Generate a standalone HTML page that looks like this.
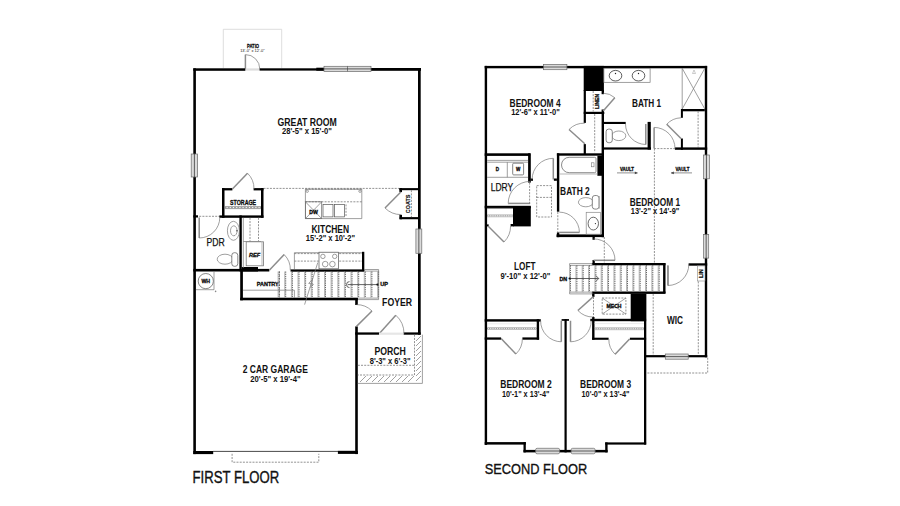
<!DOCTYPE html>
<html><head><meta charset="utf-8">
<style>
html,body{margin:0;padding:0;background:#fff;width:900px;height:506px;overflow:hidden}
svg{display:block}
text{font-family:"Liberation Sans",sans-serif;fill:#111}
.w{fill:#000}
.g{stroke:#8c8c8c;stroke-width:1.5;fill:none}
.a{stroke:#777;stroke-width:0.7;fill:none}
.d{stroke:#777;stroke-width:0.8;fill:none;stroke-dasharray:2 1.2}
.lt{stroke:#d4d4d4;stroke-width:0.8;fill:none}
.win{fill:#dadada;stroke:#6a6a6a;stroke-width:0.7}
.wl{stroke:#333;stroke-width:0.75}
.fx{stroke:#555;stroke-width:0.7;fill:#fff}
.rm{font-size:10.5px;font-weight:bold}
.dm{font-size:8.5px;font-weight:bold}
.sm{font-size:5.5px;font-weight:bold}
.s{stroke:#000;stroke-width:0.28px}
</style></head>
<body>
<svg width="900" height="506" viewBox="0 0 900 506">
<rect width="900" height="506" fill="#fff"/>

<!-- ================= FIRST FLOOR ================= -->
<!-- patio -->
<path class="lt" d="M223.3 68 V29.3 H281.7 V68"/>
<text class="s" x="253" y="47.5" font-size="6" text-anchor="middle" font-weight="bold" fill="#222" textLength="12" lengthAdjust="spacingAndGlyphs">PATIO</text>
<text x="252.4" y="51.9" font-size="4.3" text-anchor="middle" fill="#222" textLength="24.5" lengthAdjust="spacingAndGlyphs">13'-0" x 12'-0"</text>
<!-- patio door -->
<path class="g" d="M245.4 69 V54.6"/>
<path class="a" d="M245.4 54.6 A14.4 14.4 0 0 1 259.8 69"/>
<rect x="245.2" y="68.4" width="14.6" height="2.2" fill="#ddd"/>

<!-- outer walls -->
<rect class="w" x="193.3" y="68.3" width="52" height="2.5"/>
<rect class="w" x="259.6" y="68.3" width="64.4" height="2.3"/>
<rect class="w" x="316.3" y="67.7" width="8" height="3"/>
<rect class="w" x="371" y="68" width="50" height="2.8"/>
<rect class="w" x="193.3" y="68.3" width="2.6" height="385.8"/>
<rect class="w" x="418" y="68.3" width="2.7" height="266.4"/>
<!-- windows -->
<g>
<rect class="win" x="324" y="66.3" width="23.5" height="5.2"/>
<rect class="win" x="347.5" y="66.3" width="23.5" height="5.2"/>
<line class="wl" x1="324" y1="68.9" x2="371" y2="68.9"/>
<rect class="win" x="191.2" y="154" width="6.4" height="23"/>
<line class="wl" x1="194.4" y1="154" x2="194.4" y2="177"/>
<rect class="win" x="415.9" y="229" width="5.9" height="24.3"/>
<line class="wl" x1="418.85" y1="229" x2="418.85" y2="253.3"/>
</g>

<!-- kitchen soffit dashed line -->
<path class="d" d="M263.5 188.4 H399.4"/>
<path class="d" d="M196 216.3 H221"/>

<!-- storage -->
<rect class="w" x="222" y="188.1" width="10.4" height="2.3"/>
<rect class="w" x="253.6" y="188.1" width="9.9" height="2.3"/>
<rect class="w" x="222" y="188.1" width="2.5" height="29.7"/>
<rect class="w" x="261" y="188.1" width="2.5" height="29.7"/>
<rect class="w" x="219.4" y="215.4" width="44.1" height="2.4"/>
<path class="g" d="M232.4 189 L247.5 173.2"/>
<path class="a" d="M247.5 173.2 A21.6 21.6 0 0 1 254 189"/>
<path class="a" d="M224.5 206.6 H261 M224.5 208.6 H261"/>
<path class="d" d="M224.5 207.6 H261" stroke-dasharray="1 1"/>
<text class="s" x="243.1" y="205.1" font-size="6.3" text-anchor="middle" font-weight="bold" textLength="26" lengthAdjust="spacingAndGlyphs">STORAGE</text>

<!-- PDR -->
<rect class="w" x="193.3" y="215.3" width="4.7" height="2.2"/>
<rect class="w" x="239.4" y="215.4" width="2.4" height="56"/>
<rect class="w" x="193.3" y="268.9" width="76" height="2.6"/>
<rect class="w" x="241.7" y="267" width="16.3" height="4.5"/>
<path class="g" d="M199.2 217.4 V238"/>
<path class="a" d="M199.2 238 A20.6 20.6 0 0 0 219.8 217.4"/>
<ellipse class="a" cx="233.4" cy="230.8" rx="6" ry="9.5" stroke="#555"/>
<ellipse class="a" cx="233.8" cy="230.8" rx="3.3" ry="5" stroke="#555"/>
<circle cx="237" cy="230.8" r="0.7" fill="#333"/>
<!-- toilet -->
<ellipse class="a" cx="225" cy="259.2" rx="7.8" ry="5" stroke="#555"/>
<rect x="231.8" y="252.7" width="6" height="13.6" rx="2.6" fill="#fff" stroke="#555" stroke-width="0.7"/>
<text x="206.5" y="245.6" font-size="10" stroke="#111" stroke-width="0.25" textLength="18.2" lengthAdjust="spacingAndGlyphs">PDR</text>

<!-- REF + cabinets -->
<path class="a" d="M243.3 217.8 V268"/>
<path class="d" d="M250 217.8 V241.5 M258.5 217.8 V241.5"/>
<path class="a" d="M243.3 241.5 H261"/>
<rect x="246.2" y="241.8" width="17.3" height="24" fill="#fff" stroke="#777" stroke-width="0.8"/>
<line x1="262" y1="242" x2="262" y2="265.8" stroke="#999" stroke-width="0.7"/>
<text class="s" x="254.6" y="257" font-size="5.6" text-anchor="middle" font-weight="bold" font-style="italic">REF</text>

<!-- WH -->
<path class="a" d="M195.9 289.7 H214 V271.5"/>
<circle cx="205.8" cy="281.1" r="7.6" fill="#fff" stroke="#555" stroke-width="0.7"/>
<text class="s" x="205.8" y="283.1" font-size="5.2" text-anchor="middle" font-weight="bold">WH</text>
<circle cx="215.6" cy="291.4" r="0.8" fill="#888"/>

<!-- pantry -->
<rect class="w" x="240.2" y="269" width="2.7" height="31.3"/>
<rect class="w" x="240.2" y="297.7" width="117.6" height="2.6"/>
<path class="g" d="M269.3 270.3 L284.2 254.6"/>
<path class="a" d="M284.2 254.6 A21 21 0 0 1 290.3 270.3"/>
<rect class="w" x="290.6" y="269.4" width="73.7" height="2.3"/>
<path class="a" d="M242.9 290.2 H294.4 V297.7"/>
<path class="d" d="M279.5 271.3 V297.7"/>
<text class="s" x="256.8" y="286.3" font-size="5.8" font-weight="bold" textLength="21.9" lengthAdjust="spacingAndGlyphs">PANTRY</text>

<!-- kitchen counter + range -->
<path class="a" d="M294.4 269 V252.7 H362"/>
<path class="d" d="M294.4 253.6 H362 M294.4 261.1 H362"/>
<rect class="w" x="362" y="251.8" width="2.3" height="19.3"/>
<rect x="319" y="252.2" width="19.5" height="16.6" fill="#fff" stroke="#555" stroke-width="0.7"/>
<circle cx="322.9" cy="256.4" r="2.2" class="a" stroke="#555"/>
<circle cx="334.7" cy="256.4" r="2.2" class="a" stroke="#555"/>
<circle cx="325.2" cy="264.1" r="2.8" class="a" stroke="#555"/>
<circle cx="332.4" cy="264.1" r="2.8" class="a" stroke="#555"/>

<!-- island -->
<path class="a" d="M305.4 218.6 V189.2 H361.8 V218.6 Z" stroke="#666"/>
<path class="d" d="M305.4 189.2 H361.8" stroke-dasharray="1 0.8"/>
<path class="d" d="M305.4 201.8 H361.8"/>
<rect x="305.4" y="201.8" width="16.3" height="16.8" fill="none" stroke="#666" stroke-width="0.7"/>
<path class="a" d="M305.4 201.8 L321.7 218.6 M321.7 201.8 L305.4 218.6"/>
<text class="s" x="313.5" y="213.6" font-size="5.2" text-anchor="middle" font-weight="bold">DW</text>
<rect x="323" y="204.4" width="10" height="12.5" fill="none" stroke="#555" stroke-width="0.7"/>
<rect x="334.5" y="204.4" width="10" height="12.5" fill="none" stroke="#555" stroke-width="0.7"/>
<path class="d" d="M346 204.4 V217" stroke-dasharray="1 0.8"/>
<circle cx="307.2" cy="191.2" r="1.2" class="a"/>
<circle cx="360" cy="191.2" r="1.2" class="a"/>

<!-- coats -->
<rect class="w" x="399.4" y="188.1" width="18.6" height="2.1"/>
<rect class="w" x="399.4" y="188.1" width="2.6" height="4"/>
<rect class="w" x="399.4" y="214.8" width="2.6" height="4.45"/>
<rect class="w" x="399.7" y="217.1" width="18.3" height="2.15"/>
<path class="g" d="M400.8 192 L385 208"/>
<path class="a" d="M385 208 A22.5 22.5 0 0 0 400.8 214.6"/>
<path class="d" d="M411.4 190.2 V217.1"/>
<text transform="translate(409.7 203.9) rotate(-90)" font-size="5.8" text-anchor="middle" font-weight="bold" stroke="#111" stroke-width="0.2" textLength="18.6" lengthAdjust="spacingAndGlyphs">COATS</text>

<!-- stairs first floor -->
<g><line x1="278.1" y1="271.5" x2="278.1" y2="297.7" stroke="#999" stroke-width="0.7"/><line x1="279.1" y1="271.5" x2="279.1" y2="297.7" stroke="#333" stroke-width="0.75" stroke-dasharray="1.3 0.9"/><line x1="284.7" y1="271.5" x2="284.7" y2="297.7" stroke="#999" stroke-width="0.7"/><line x1="285.7" y1="271.5" x2="285.7" y2="297.7" stroke="#333" stroke-width="0.75" stroke-dasharray="1.3 0.9"/><line x1="291.4" y1="271.5" x2="291.4" y2="297.7" stroke="#999" stroke-width="0.7"/><line x1="292.4" y1="271.5" x2="292.4" y2="297.7" stroke="#333" stroke-width="0.75" stroke-dasharray="1.3 0.9"/><line x1="298.0" y1="271.5" x2="298.0" y2="297.7" stroke="#999" stroke-width="0.7"/><line x1="299.0" y1="271.5" x2="299.0" y2="297.7" stroke="#333" stroke-width="0.75" stroke-dasharray="1.3 0.9"/><line x1="304.6" y1="271.5" x2="304.6" y2="297.7" stroke="#999" stroke-width="0.7"/><line x1="305.6" y1="271.5" x2="305.6" y2="297.7" stroke="#333" stroke-width="0.75" stroke-dasharray="1.3 0.9"/><line x1="311.2" y1="271.5" x2="311.2" y2="297.7" stroke="#999" stroke-width="0.7"/><line x1="312.2" y1="271.5" x2="312.2" y2="297.7" stroke="#333" stroke-width="0.75" stroke-dasharray="1.3 0.9"/><line x1="317.9" y1="271.5" x2="317.9" y2="297.7" stroke="#999" stroke-width="0.7"/><line x1="318.9" y1="271.5" x2="318.9" y2="297.7" stroke="#333" stroke-width="0.75" stroke-dasharray="1.3 0.9"/><line x1="324.5" y1="271.5" x2="324.5" y2="297.7" stroke="#999" stroke-width="0.7"/><line x1="325.5" y1="271.5" x2="325.5" y2="297.7" stroke="#333" stroke-width="0.75" stroke-dasharray="1.3 0.9"/><line x1="331.1" y1="271.5" x2="331.1" y2="297.7" stroke="#999" stroke-width="0.7"/><line x1="332.1" y1="271.5" x2="332.1" y2="297.7" stroke="#333" stroke-width="0.75" stroke-dasharray="1.3 0.9"/><line x1="337.8" y1="271.5" x2="337.8" y2="297.7" stroke="#999" stroke-width="0.7"/><line x1="338.8" y1="271.5" x2="338.8" y2="297.7" stroke="#333" stroke-width="0.75" stroke-dasharray="1.3 0.9"/><line x1="344.4" y1="271.5" x2="344.4" y2="297.7" stroke="#999" stroke-width="0.7"/><line x1="345.4" y1="271.5" x2="345.4" y2="297.7" stroke="#333" stroke-width="0.75" stroke-dasharray="1.3 0.9"/><line x1="351.0" y1="271.5" x2="351.0" y2="297.7" stroke="#999" stroke-width="0.7"/><line x1="352.0" y1="271.5" x2="352.0" y2="297.7" stroke="#333" stroke-width="0.75" stroke-dasharray="1.3 0.9"/><line x1="357.7" y1="271.5" x2="357.7" y2="297.7" stroke="#999" stroke-width="0.7"/><line x1="358.7" y1="271.5" x2="358.7" y2="297.7" stroke="#333" stroke-width="0.75" stroke-dasharray="1.3 0.9"/><line x1="364.3" y1="271.5" x2="364.3" y2="297.7" stroke="#999" stroke-width="0.7"/><line x1="365.3" y1="271.5" x2="365.3" y2="297.7" stroke="#333" stroke-width="0.75" stroke-dasharray="1.3 0.9"/><line x1="370.9" y1="271.5" x2="370.9" y2="297.7" stroke="#999" stroke-width="0.7"/><line x1="371.9" y1="271.5" x2="371.9" y2="297.7" stroke="#333" stroke-width="0.75" stroke-dasharray="1.3 0.9"/><line x1="377.6" y1="271.5" x2="377.6" y2="297.7" stroke="#999" stroke-width="0.7"/><line x1="378.6" y1="271.5" x2="378.6" y2="297.7" stroke="#333" stroke-width="0.75" stroke-dasharray="1.3 0.9"/></g>
<path class="a" d="M364.3 269.5 H378.6 V299.6 H357.8 M364.3 271.1 H378.6 M357.8 298.1 H378.6"/>
<path class="a" d="M317.8 262.5 L304.6 304.6" stroke="#666"/>
<path class="a" d="M312.2 279.6 L308.7 283.4 L313.4 284.4 L310.2 287.6" stroke="#444"/>
<path d="M347.7 284.6 H377.4" stroke="#222" stroke-width="0.7"/>
<path d="M349.5 281.6 A3 3 0 0 0 349.5 287.6" fill="none" stroke="#222" stroke-width="0.7"/>
<circle cx="377.4" cy="284.6" r="1.1" fill="#111"/>
<text class="s" x="380.3" y="286.4" font-size="5.6" font-weight="bold">UP</text>

<!-- garage / foyer -->
<rect class="w" x="355.2" y="298" width="2.6" height="7"/>
<rect class="w" x="355.2" y="326.4" width="2.6" height="127.7"/>
<path class="g" d="M356.5 326.4 L372 311"/>
<path class="a" d="M372 311 A21.8 21.8 0 0 0 356.5 304.6"/>
<rect class="w" x="355.2" y="332.4" width="23.9" height="2.3"/>
<rect class="w" x="403.5" y="332.4" width="17.2" height="2.3"/>
<path class="g" d="M379.4 333.5 L395.8 315.2"/>
<path class="a" d="M395.8 315.2 A24.6 24.6 0 0 1 404 333.5"/>
<rect x="379.1" y="332.6" width="24.4" height="2.2" fill="#e6e6e6"/>
<text x="382.1" y="306.4" class="rm" textLength="30" lengthAdjust="spacingAndGlyphs">FOYER</text>

<!-- porch -->
<path class="a" d="M357.8 383.4 H422.4 V334.7" stroke="#888"/>
<path class="d" d="M414.5 334.7 V375 H357.8" stroke="#999" stroke-dasharray="2 1"/>
<path class="d" d="M357.8 365.3 H414.5"/>
<g stroke="#808080" stroke-width="0.75">
<path d="M416 341 l5 -5 M416 346 l5 -5 M416 351 l5 -5 M416 356 l5 -5 M416 361 l5 -5 M416 366 l5 -5 M416 371 l5 -5 M416 376 l5 -5 M416 381 l5 -5"/>
<path d="M360 382 l6 -6 M366 382 l6 -6 M372 382 l6 -6 M378 382 l6 -6 M384 382 l6 -6 M390 382 l6 -6 M396 382 l6 -6 M402 382 l6 -6 M408 382 l6 -6"/>
</g>
<text x="374.4" y="355.1" class="rm" textLength="31.4" lengthAdjust="spacingAndGlyphs">PORCH</text>
<text x="369.7" y="363.8" class="dm" textLength="40.9" lengthAdjust="spacingAndGlyphs">8'-3" x 6'-3"</text>

<!-- garage bottom -->
<rect class="w" x="193.3" y="451" width="19.9" height="3.1"/>
<rect class="w" x="337.9" y="450.8" width="20" height="3.1"/>
<line x1="213" y1="451.4" x2="338" y2="451.4" stroke="#333" stroke-width="0.9"/>
<path class="d" d="M232.1 453.8 V462.2 H318.8 V453.8" stroke="#888" stroke-width="0.9" stroke-dasharray="3 1.5"/>

<!-- labels -->
<text x="277.6" y="125.7" class="rm" textLength="59.2" lengthAdjust="spacingAndGlyphs">GREAT ROOM</text>
<text x="282" y="134.4" class="dm" textLength="49.8" lengthAdjust="spacingAndGlyphs">28'-5" x 15'-0"</text>
<text x="311.5" y="232.6" class="rm" textLength="37.6" lengthAdjust="spacingAndGlyphs">KITCHEN</text>
<text x="305.8" y="241.4" class="dm" textLength="49.3" lengthAdjust="spacingAndGlyphs">15'-2" x 10'-2"</text>
<text x="242.8" y="372.6" class="rm" textLength="65" lengthAdjust="spacingAndGlyphs">2 CAR GARAGE</text>
<text x="250.3" y="381.7" class="dm" textLength="50.3" lengthAdjust="spacingAndGlyphs">20'-5" x 19'-4"</text>
<text x="192.6" y="482.7" font-size="16" stroke="#111" stroke-width="0.35" textLength="86.6" lengthAdjust="spacingAndGlyphs">FIRST FLOOR</text>

<!-- ================= SECOND FLOOR ================= -->
<!-- outer walls -->
<rect class="w" x="484.7" y="65.9" width="222.4" height="2.4"/>
<rect class="w" x="484.7" y="65.9" width="2.4" height="379"/>
<rect class="w" x="704.8" y="65.9" width="2.4" height="291.4"/>
<!-- windows -->
<rect class="win" x="543.6" y="64.4" width="23.3" height="5.3"/>
<line class="wl" x1="543.6" y1="67" x2="566.9" y2="67"/>
<rect class="win" x="703.5" y="155" width="5.9" height="23.8"/>
<line class="wl" x1="706.45" y1="155" x2="706.45" y2="178.8"/>
<rect class="win" x="703.6" y="234.6" width="5.1" height="23.5"/>
<line class="wl" x1="706.15" y1="234.6" x2="706.15" y2="258.1"/>

<!-- chase + linen -->
<rect class="w" x="583.7" y="65.9" width="20.2" height="25.1"/>
<rect class="w" x="583.7" y="90" width="2.2" height="32.9"/>
<rect class="w" x="583.7" y="144.1" width="2.2" height="10"/>
<rect class="w" x="601.6" y="90" width="2.4" height="4.2"/>
<rect class="w" x="583.7" y="111.8" width="20.6" height="2.2"/>
<rect class="w" x="601.6" y="109.5" width="2.4" height="127.7"/>
<path class="d" d="M593.2 91 V111.5"/>
<text class="s" transform="translate(598.8 101.5) rotate(-90)" font-size="5.2" text-anchor="middle" font-weight="bold" textLength="15" lengthAdjust="spacingAndGlyphs">LINEN</text>
<path class="g" d="M603.2 111 L614.8 97.7"/>
<path class="a" d="M614.8 97.7 A17.8 17.8 0 0 0 603.2 93.2"/>
<!-- bedroom 4 closet -->
<path class="d" d="M594.7 114 V152.5"/>
<path class="g" d="M584.8 143.8 L569 129.5"/>
<path class="a" d="M569 129.5 A21 21 0 0 1 584.8 123.2"/>

<!-- Bath 1 -->
<rect x="603.9" y="68.3" width="46.2" height="14" fill="#fff" stroke="#777" stroke-width="0.7"/>
<ellipse cx="615.5" cy="75.7" rx="6.3" ry="5.3" fill="none" stroke="#333" stroke-width="0.8"/>
<ellipse cx="638.5" cy="75.7" rx="6.3" ry="5.3" fill="none" stroke="#333" stroke-width="0.8"/>
<circle cx="615.5" cy="73.5" r="0.7" fill="#222"/>
<circle cx="638.5" cy="73.5" r="0.7" fill="#222"/>
<!-- shower -->
<path class="a" d="M682.2 68.3 V109 M682.2 68.3 L704.8 109 M704.8 68.3 L682.2 109" stroke="#999"/>
<path d="M692.5 73.5 L694 70 L695.5 73.5 Z" fill="none" stroke="#999" stroke-width="0.5"/>
<rect class="w" x="681" y="109" width="23.8" height="2.3"/>
<rect class="w" x="680.9" y="109" width="2" height="8.8"/>
<rect class="w" x="680.9" y="138.5" width="2" height="11.3"/>
<path class="d" d="M698.1 111.3 V147.4"/>
<path class="g" d="M681 138.5 L666.7 124.3"/>
<path class="a" d="M666.7 124.3 A20.2 20.2 0 0 1 681 117.8"/>
<!-- WC -->
<rect class="w" x="603" y="121.9" width="22.7" height="2.1"/>
<rect class="w" x="647.6" y="121.9" width="3.2" height="27.7"/>
<rect class="w" x="603" y="147.4" width="48" height="2.2"/>
<path class="g" d="M645.8 124 V144.5"/>
<path class="a" d="M645.8 144.5 A20.5 20.5 0 0 1 625.5 124"/>
<ellipse class="a" cx="618.8" cy="135.8" rx="7" ry="4.8" stroke="#555"/>
<rect x="606.1" y="129.1" width="6.2" height="13.6" rx="2.6" fill="#fff" stroke="#555" stroke-width="0.7"/>
<!-- bedroom 1 door -->
<rect class="w" x="674.9" y="147.4" width="32.3" height="2.4"/>
<path class="g" d="M654.1 148.6 V127.4"/>
<path class="a" d="M654.1 127.4 A21 21 0 0 1 675 148.6"/>
<path class="d" d="M654.1 148.6 H674.9"/>
<path class="d" d="M654.4 148.6 V263" stroke-dasharray="2.5 1.5"/>
<text class="s" x="620" y="170.5" font-size="4.8" font-weight="bold" textLength="14" lengthAdjust="spacingAndGlyphs">VAULT</text>
<path d="M617 172.9 H637.5" stroke="#444" stroke-width="0.6"/>
<path d="M634.8 171.6 L637.8 172.9 L634.8 174.2 Z" fill="#444"/>
<text class="s" x="675.4" y="170.9" font-size="4.8" font-weight="bold" textLength="14" lengthAdjust="spacingAndGlyphs">VAULT</text>
<path d="M671 172.9 H692" stroke="#444" stroke-width="0.6"/>
<path d="M673.8 171.6 L670.8 172.9 L673.8 174.2 Z" fill="#444"/>

<!-- Bedroom 4 / LDRY -->
<rect class="w" x="484.7" y="153.3" width="45.5" height="2.6"/>
<rect class="w" x="528.1" y="153.3" width="2.7" height="29.3"/>
<rect class="w" x="530.5" y="178.5" width="2.5" height="2.3"/>
<rect class="w" x="553.9" y="178.5" width="3" height="2.3"/>
<path class="g" d="M553.3 179.5 V158.3"/>
<path class="a" d="M553.3 158.3 A21.2 21.2 0 0 0 532.1 179.5"/>
<rect class="w" x="484.7" y="205.8" width="46.1" height="2.5"/>
<!-- laundry -->
<path class="a" d="M487.1 160.4 H528.1 M487.1 162.2 H528.1" stroke="#999"/>
<path class="a" d="M487.1 177.3 H528.1 M507.3 162.2 V177.3" stroke="#999"/>
<rect x="512.7" y="163.2" width="10.9" height="11.7" rx="1" fill="none" stroke="#666" stroke-width="0.8"/>
<text class="s" x="497.5" y="171.4" font-size="4.6" font-weight="bold" text-anchor="middle">D</text>
<text class="s" x="518.2" y="171.4" font-size="4.6" font-weight="bold" text-anchor="middle">W</text>
<path class="g" d="M530.2 203.4 H508.2"/>
<path class="a" d="M508.2 203.4 A22 22 0 0 1 530.2 181.4"/>
<path class="d" d="M529.6 182.6 V203.4"/>
<text x="490.7" y="190.9" font-size="10" stroke="#111" stroke-width="0.25" textLength="22.5" lengthAdjust="spacingAndGlyphs">LDRY</text>
<!-- hall closet -->
<rect class="w" x="513" y="206.5" width="17.8" height="19.9"/>
<rect class="w" x="510.6" y="224" width="3" height="2.4"/>
<rect class="w" x="486.3" y="224.4" width="2.4" height="2"/>
<path class="a" d="M487.1 208.3 H513" stroke="#999"/>
<path d="M487.1 214.8 H513 M487.1 216.8 H513" stroke="#999" stroke-width="0.6" fill="none"/><path d="M487.1 215.8 H513" stroke="#666" stroke-width="0.7" stroke-dasharray="1 0.8" fill="none"/>
<path class="g" d="M488 226 L504 242"/>
<path class="a" d="M504 242 A22.6 22.6 0 0 0 510.6 226"/>
<!-- attic access -->
<path class="d" d="M536.7 185.6 H551.5 V217 H536.7 Z M536.7 197.4 H551.5" stroke="#666" stroke-width="0.9" stroke-dasharray="2.5 1.3"/>

<!-- Bath 2 -->
<rect class="w" x="556.9" y="153.3" width="47" height="2.4"/>
<rect class="w" x="556.9" y="153.3" width="2.4" height="58.4"/>
<rect class="w" x="556.9" y="232.4" width="2.4" height="4.8"/>
<rect class="w" x="597.4" y="155.7" width="5" height="20.1"/>
<rect class="w" x="556.5" y="234.4" width="47.5" height="2.7"/>
<path d="M569.2 157.3 H594.6 Q596 157.3 596 158.7 V171.3 Q596 172.7 594.6 172.7 H569.2 A7.7 7.7 0 0 1 569.2 157.3 Z" fill="none" stroke="#666" stroke-width="0.75"/>
<rect x="591.6" y="162.8" width="2.4" height="4" fill="none" stroke="#777" stroke-width="0.6"/>
<line x1="559.3" y1="174" x2="597.4" y2="174" stroke="#999" stroke-width="0.7"/>
<path class="g" d="M559.3 232.4 H579.4"/>
<path class="a" d="M579.4 232.4 A20.3 20.3 0 0 0 559.3 212.1"/>
<path class="d" d="M557.8 212 V232"/>
<ellipse class="a" cx="585.8" cy="202.2" rx="7.4" ry="4.6" stroke="#555"/>
<rect x="592.3" y="195.5" width="6.7" height="13.6" rx="2.6" fill="#fff" stroke="#555" stroke-width="0.7"/>
<line x1="599.3" y1="196" x2="599.3" y2="208.6" stroke="#aaa" stroke-width="1"/>
<rect x="586.2" y="212.3" width="14.2" height="21.9" fill="none" stroke="#888" stroke-width="0.7"/>
<ellipse cx="593.3" cy="223.6" rx="5.2" ry="6.4" fill="none" stroke="#444" stroke-width="0.8"/>
<circle cx="595.4" cy="223.6" r="0.6" fill="#222"/>
<text x="560.1" y="194.6" class="rm" textLength="29.6" lengthAdjust="spacingAndGlyphs">BATH 2</text>

<!-- loft door to bedroom1 -->
<rect class="w" x="592.5" y="236.9" width="2.3" height="2.9"/>
<rect class="w" x="592.5" y="260" width="2.3" height="4.1"/>
<path class="g" d="M593.6 260.3 H615"/>
<path class="a" d="M615 260.3 A21.4 21.4 0 0 0 593.6 238.9"/>
<path class="d" d="M604.3 237 V263.5"/>

<!-- stairs 2nd floor -->
<rect class="w" x="592.1" y="263" width="73.4" height="2.3"/>
<rect class="w" x="592.1" y="291.5" width="73.4" height="2.4"/>
<rect class="w" x="663.1" y="263.2" width="2.4" height="30"/>
<path class="a" d="M569.6 263.6 H592.1 V265.4 H569.6 Z M569.6 292.1 H592.1 V293.9 H569.6 Z" stroke="#888"/>
<g><line x1="569.5" y1="265.4" x2="569.5" y2="292.1" stroke="#999" stroke-width="0.7"/><line x1="570.5" y1="265.4" x2="570.5" y2="292.1" stroke="#333" stroke-width="0.75" stroke-dasharray="1.3 0.9"/><line x1="575.9" y1="265.4" x2="575.9" y2="292.1" stroke="#999" stroke-width="0.7"/><line x1="576.9" y1="265.4" x2="576.9" y2="292.1" stroke="#333" stroke-width="0.75" stroke-dasharray="1.3 0.9"/><line x1="582.2" y1="265.4" x2="582.2" y2="292.1" stroke="#999" stroke-width="0.7"/><line x1="583.2" y1="265.4" x2="583.2" y2="292.1" stroke="#333" stroke-width="0.75" stroke-dasharray="1.3 0.9"/><line x1="588.5" y1="265.4" x2="588.5" y2="292.1" stroke="#999" stroke-width="0.7"/><line x1="589.5" y1="265.4" x2="589.5" y2="292.1" stroke="#333" stroke-width="0.75" stroke-dasharray="1.3 0.9"/><line x1="594.9" y1="265.3" x2="594.9" y2="291.5" stroke="#999" stroke-width="0.7"/><line x1="595.9" y1="265.3" x2="595.9" y2="291.5" stroke="#333" stroke-width="0.75" stroke-dasharray="1.3 0.9"/><line x1="601.2" y1="265.3" x2="601.2" y2="291.5" stroke="#999" stroke-width="0.7"/><line x1="602.2" y1="265.3" x2="602.2" y2="291.5" stroke="#333" stroke-width="0.75" stroke-dasharray="1.3 0.9"/><line x1="607.5" y1="265.3" x2="607.5" y2="291.5" stroke="#999" stroke-width="0.7"/><line x1="608.5" y1="265.3" x2="608.5" y2="291.5" stroke="#333" stroke-width="0.75" stroke-dasharray="1.3 0.9"/><line x1="613.9" y1="265.3" x2="613.9" y2="291.5" stroke="#999" stroke-width="0.7"/><line x1="614.9" y1="265.3" x2="614.9" y2="291.5" stroke="#333" stroke-width="0.75" stroke-dasharray="1.3 0.9"/><line x1="620.2" y1="265.3" x2="620.2" y2="291.5" stroke="#999" stroke-width="0.7"/><line x1="621.2" y1="265.3" x2="621.2" y2="291.5" stroke="#333" stroke-width="0.75" stroke-dasharray="1.3 0.9"/><line x1="626.5" y1="265.3" x2="626.5" y2="291.5" stroke="#999" stroke-width="0.7"/><line x1="627.5" y1="265.3" x2="627.5" y2="291.5" stroke="#333" stroke-width="0.75" stroke-dasharray="1.3 0.9"/><line x1="632.8" y1="265.3" x2="632.8" y2="291.5" stroke="#999" stroke-width="0.7"/><line x1="633.8" y1="265.3" x2="633.8" y2="291.5" stroke="#333" stroke-width="0.75" stroke-dasharray="1.3 0.9"/><line x1="639.2" y1="265.3" x2="639.2" y2="291.5" stroke="#999" stroke-width="0.7"/><line x1="640.2" y1="265.3" x2="640.2" y2="291.5" stroke="#333" stroke-width="0.75" stroke-dasharray="1.3 0.9"/><line x1="645.5" y1="265.3" x2="645.5" y2="291.5" stroke="#999" stroke-width="0.7"/><line x1="646.5" y1="265.3" x2="646.5" y2="291.5" stroke="#333" stroke-width="0.75" stroke-dasharray="1.3 0.9"/><line x1="651.8" y1="265.3" x2="651.8" y2="291.5" stroke="#999" stroke-width="0.7"/><line x1="652.8" y1="265.3" x2="652.8" y2="291.5" stroke="#333" stroke-width="0.75" stroke-dasharray="1.3 0.9"/><line x1="658.2" y1="265.3" x2="658.2" y2="291.5" stroke="#999" stroke-width="0.7"/><line x1="659.2" y1="265.3" x2="659.2" y2="291.5" stroke="#333" stroke-width="0.75" stroke-dasharray="1.3 0.9"/></g>
<path d="M569.6 278.5 H598.6" stroke="#222" stroke-width="0.7"/>
<path d="M595.9 275.6 L598.7 278.5 L595.9 281.4" fill="none" stroke="#222" stroke-width="0.7"/>
<circle cx="569.6" cy="278.5" r="1.1" fill="#111"/>
<text class="s" x="559.5" y="280.6" font-size="5" font-weight="bold" textLength="7.7" lengthAdjust="spacingAndGlyphs">DN</text>

<!-- mech -->
<rect class="w" x="592.1" y="293.9" width="2.4" height="3"/>
<rect class="w" x="592.1" y="317" width="2.4" height="22.7"/>
<rect class="w" x="590.3" y="318.8" width="55.8" height="2.4"/>
<rect class="w" x="630.7" y="293.9" width="15.4" height="27.3"/>
<path class="g" d="M593.3 296.6 L577.9 310.5"/>
<path class="a" d="M577.9 310.5 A20.8 20.8 0 0 0 593.3 317"/>
<path class="d" d="M593.5 297 V317"/>
<path class="d" d="M602.2 298 H625.9 V314.1 H602.2 Z" stroke="#666" stroke-width="0.9" stroke-dasharray="2.5 1.3"/>
<path class="a" d="M602.2 298 L625.9 314.1 M625.9 298 L602.2 314.1" stroke="#666"/>
<text class="s" x="614" y="308.2" font-size="5" font-weight="bold" text-anchor="middle" textLength="15" lengthAdjust="spacingAndGlyphs">MECH</text>

<!-- bedroom 3 closet -->
<path d="M594.5 323.6 H644" stroke="#ddd" stroke-width="0.6"/><path d="M594.5 327.7 H644 M594.5 329.7 H644" stroke="#999" stroke-width="0.6" fill="none"/><path d="M594.5 328.7 H644" stroke="#666" stroke-width="0.7" stroke-dasharray="1 0.8" fill="none"/>
<rect class="w" x="592.1" y="337.7" width="16.5" height="2.1"/>
<rect class="w" x="629.9" y="337.7" width="16.2" height="2.1"/>
<path class="g" d="M629.6 339 L615.1 354.3"/>
<path class="a" d="M615.1 354.3 A20.8 20.8 0 0 1 608.8 339"/>

<!-- bedroom 2 closet -->
<rect class="w" x="484.7" y="319.2" width="56.1" height="2.4"/>
<rect class="w" x="536.7" y="319.2" width="2.4" height="20.5"/>
<rect class="w" x="484.7" y="337.4" width="16.4" height="2.3"/>
<rect class="w" x="522.4" y="337.4" width="16.7" height="2.3"/>
<path d="M487.1 323.8 H536.7" stroke="#ddd" stroke-width="0.6"/><path d="M487.1 327.5 H536.7 M487.1 329.5 H536.7" stroke="#999" stroke-width="0.6" fill="none"/><path d="M487.1 328.5 H536.7" stroke="#666" stroke-width="0.7" stroke-dasharray="1 0.8" fill="none"/>
<path class="g" d="M501.1 338.6 L515.9 354"/>
<path class="a" d="M515.9 354 A21.3 21.3 0 0 0 522.4 338.6"/>

<!-- bedroom doors 2/3 and center wall -->
<rect class="w" x="564.5" y="319.1" width="2.2" height="133.3"/>
<rect class="w" x="561.6" y="319.1" width="7.4" height="1.7"/>
<path class="g" d="M561.3 320.8 V341.8 M570.5 320.8 V341.8"/>
<path class="a" d="M561.3 341.8 A21 21 0 0 1 540.6 320.6"/>
<path class="a" d="M570.5 341.8 A21 21 0 0 0 591.2 320.6"/>

<!-- WIC -->
<rect class="w" x="644" y="293.9" width="2.3" height="150.7"/>
<rect class="w" x="688.6" y="263.3" width="18.6" height="2.4"/>
<rect class="w" x="646" y="355.1" width="61.2" height="2.2"/>
<path class="g" d="M668 265.4 V285.5"/>
<path class="a" d="M668 285.5 A21 21 0 0 0 688.8 264.4"/>
<path class="a" d="M667.9 265.3 V285.5" stroke="#888"/>
<path class="d" d="M653.2 293.9 V355 M698.3 281.4 V355"/>
<rect x="697.6" y="265.9" width="7.4" height="15.1" fill="#fff" stroke="#888" stroke-width="0.6"/>
<text class="s" transform="translate(703.4 273.6) rotate(-90)" font-size="5.4" font-weight="bold" text-anchor="middle" textLength="8.8" lengthAdjust="spacingAndGlyphs">LIN</text>
<rect class="win" x="665.3" y="354" width="22.9" height="5.2"/>
<line class="wl" x1="665.3" y1="356.6" x2="688.2" y2="356.6"/>
<path class="d" d="M707.7 357.7 V373 H646.3" stroke-dasharray="2.5 1.5"/>
<text x="666.9" y="323.7" class="rm" textLength="16.1" lengthAdjust="spacingAndGlyphs">WIC</text>

<!-- bottom walls -->
<rect class="w" x="484.7" y="442.1" width="41.1" height="2.5"/>
<rect class="w" x="523.5" y="442.1" width="2.3" height="10.3"/>
<rect class="w" x="523.5" y="449.9" width="84.1" height="2.5"/>
<rect class="w" x="605.2" y="442.4" width="2.4" height="10"/>
<rect class="w" x="605.2" y="442.4" width="40.9" height="2.2"/>
<rect class="win" x="535.6" y="448.3" width="24" height="5.5" rx="1.5"/>
<line class="wl" x1="535.6" y1="451" x2="559.6" y2="451"/>
<rect class="win" x="571.1" y="448.3" width="24" height="5.5" rx="1.5"/>
<line class="wl" x1="571.1" y1="451" x2="595.1" y2="451"/>

<!-- labels -->
<text x="509.6" y="107.2" class="rm" textLength="51" lengthAdjust="spacingAndGlyphs">BEDROOM 4</text>
<text x="511.2" y="115.3" class="dm" textLength="48.6" lengthAdjust="spacingAndGlyphs">12'-6" x 11'-0"</text>
<text x="632.1" y="107.2" class="rm" textLength="29" lengthAdjust="spacingAndGlyphs">BATH 1</text>
<text x="629.8" y="205.5" class="rm" textLength="50.3" lengthAdjust="spacingAndGlyphs">BEDROOM 1</text>
<text x="630.8" y="214.4" class="dm" textLength="48.5" lengthAdjust="spacingAndGlyphs">13'-2" x 14'-9"</text>
<text x="514.1" y="269.7" class="rm" textLength="21.4" lengthAdjust="spacingAndGlyphs">LOFT</text>
<text x="500.5" y="278.8" class="dm" textLength="49.8" lengthAdjust="spacingAndGlyphs">9'-10" x 12'-0"</text>
<text x="500.3" y="387.7" class="rm" textLength="51.4" lengthAdjust="spacingAndGlyphs">BEDROOM 2</text>
<text x="501.9" y="396.6" class="dm" textLength="47.5" lengthAdjust="spacingAndGlyphs">10'-1" x 13'-4"</text>
<text x="580.1" y="387.9" class="rm" textLength="51" lengthAdjust="spacingAndGlyphs">BEDROOM 3</text>
<text x="581.5" y="396.6" class="dm" textLength="48" lengthAdjust="spacingAndGlyphs">10'-0" x 13'-4"</text>
<text x="484.7" y="473.9" font-size="15.5" stroke="#111" stroke-width="0.35" textLength="102.5" lengthAdjust="spacingAndGlyphs">SECOND FLOOR</text>

</svg>
</body></html>
